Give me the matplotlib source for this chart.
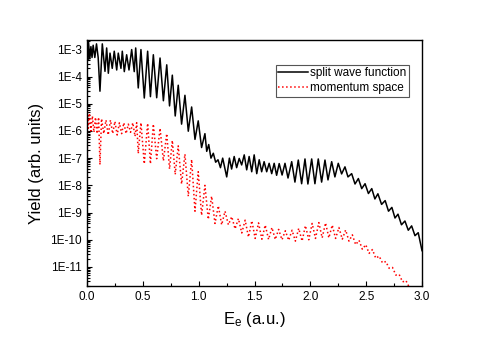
import numpy as np
import matplotlib
matplotlib.use("Agg")
import matplotlib.pyplot as plt
from matplotlib.ticker import FuncFormatter, MultipleLocator, LogLocator, NullFormatter, FixedLocator

plt.rcParams['font.family'] = ['Liberation Sans', 'DejaVu Sans']
plt.rcParams['mathtext.default'] = 'regular'

split_E = [0.000, 0.006, 0.014, 0.025, 0.035, 0.045, 0.055, 0.070, 0.085, 0.100,
           0.116, 0.137, 0.161, 0.176, 0.191, 0.206, 0.226, 0.244, 0.266, 0.280,
           0.304, 0.316, 0.334, 0.355, 0.376, 0.400, 0.423, 0.436, 0.459, 0.483,
           0.513, 0.543, 0.568, 0.594, 0.624, 0.654, 0.684, 0.714, 0.739, 0.764,
           0.790, 0.817, 0.847, 0.877, 0.907, 0.937, 0.967, 0.996, 1.026, 1.056,
           1.072, 1.090, 1.110, 1.131, 1.152, 1.173, 1.195, 1.215, 1.251, 1.275,
           1.295, 1.318, 1.340, 1.363, 1.385, 1.408, 1.430, 1.452, 1.475, 1.497,
           1.520, 1.542, 1.564, 1.586, 1.609, 1.631, 1.654, 1.676, 1.698, 1.721,
           1.747, 1.773, 1.800, 1.833, 1.862, 1.892, 1.922, 1.952, 1.978, 2.012,
           2.041, 2.071, 2.101, 2.131, 2.158, 2.191, 2.220, 2.250, 2.280, 2.310,
           2.337, 2.370, 2.400, 2.430, 2.460, 2.490, 2.520, 2.550, 2.578, 2.605,
           2.638, 2.670, 2.700, 2.730, 2.758, 2.785, 2.816, 2.847, 2.877, 2.907,
           2.937, 2.966, 3.000]
split_logY = [-2.90, -3.40, -2.75, -3.35, -2.90, -3.30, -2.85, -3.30, -2.80, -3.30,
              -4.54, -2.80, -3.81, -2.95, -3.88, -3.14, -3.70, -3.07, -3.76, -3.14,
              -3.70, -3.07, -3.82, -3.20, -3.76, -3.01, -3.82, -2.95, -4.42, -3.01,
              -4.79, -3.07, -4.74, -3.20, -4.78, -3.32, -4.89, -3.57, -5.08, -3.95,
              -5.45, -4.32, -5.75, -4.69, -6.01, -5.12, -6.31, -5.63, -6.61, -6.10,
              -6.75, -6.50, -7.00, -6.82, -7.15, -7.06, -7.35, -7.00, -7.69, -7.00,
              -7.40, -6.94, -7.35, -7.01, -7.25, -6.88, -7.43, -6.94, -7.50, -6.88,
              -7.57, -7.06, -7.50, -7.13, -7.50, -7.19, -7.57, -7.19, -7.63, -7.20,
              -7.62, -7.19, -7.73, -7.13, -7.88, -7.07, -7.94, -7.03, -7.95, -7.03,
              -7.94, -7.03, -7.88, -7.07, -7.80, -7.13, -7.69, -7.19, -7.58, -7.32,
              -7.69, -7.57, -7.95, -7.75, -8.12, -7.94, -8.30, -8.12, -8.50, -8.31,
              -8.70, -8.56, -8.95, -8.81, -9.20, -9.06, -9.45, -9.31, -9.65, -9.49,
              -9.85, -9.74, -10.40]

# momentum space
mom_E = [0.000, 0.004, 0.012, 0.022, 0.035, 0.048, 0.062, 0.076, 0.090, 0.104,
         0.116, 0.130, 0.150, 0.170, 0.190, 0.210, 0.230, 0.250, 0.270, 0.290,
         0.310, 0.330, 0.350, 0.370, 0.390, 0.410, 0.430, 0.445, 0.459, 0.483,
         0.513, 0.543, 0.568, 0.594, 0.624, 0.654, 0.684, 0.714, 0.739, 0.764,
         0.790, 0.817, 0.847, 0.877, 0.907, 0.937, 0.967, 0.996, 1.026, 1.056,
         1.086, 1.116, 1.146, 1.176, 1.206, 1.236, 1.266, 1.296, 1.326, 1.356,
         1.386, 1.416, 1.446, 1.476, 1.506, 1.536, 1.566, 1.596, 1.626, 1.656,
         1.686, 1.716, 1.746, 1.776, 1.806, 1.836, 1.866, 1.896, 1.926, 1.956,
         1.986, 2.016, 2.046, 2.076, 2.106, 2.136, 2.166, 2.196, 2.226, 2.256,
         2.286, 2.316, 2.346, 2.376, 2.406, 2.436, 2.466, 2.496, 2.526, 2.556,
         2.586, 2.616, 2.646, 2.676, 2.706, 2.736, 2.766, 2.796, 2.826, 2.856,
         2.886, 2.910]
mom_logY = [-12.0, -5.30, -5.90, -5.35, -6.00, -5.45, -6.05, -5.50, -6.10, -5.50,
            -7.24, -5.55, -6.10, -5.60, -6.15, -5.60, -6.10, -5.65, -6.15, -5.70,
            -6.10, -5.70, -6.10, -5.75, -6.05, -5.70, -6.20, -5.70, -6.83, -5.70,
            -7.21, -5.72, -7.21, -5.75, -7.02, -5.90, -7.10, -6.10, -7.40, -6.35,
            -7.60, -6.55, -7.95, -6.85, -8.40, -7.05, -8.95, -7.50, -9.10, -8.00,
            -9.25, -8.40, -9.40, -8.75, -9.45, -8.95, -9.45, -9.15, -9.60, -9.22,
            -9.75, -9.28, -9.90, -9.30, -9.95, -9.38, -9.98, -9.46, -9.99, -9.55,
            -9.99, -9.62, -10.00, -9.67, -10.02, -9.65, -10.05, -9.58, -10.05, -9.48,
            -10.00, -9.40, -9.95, -9.37, -9.93, -9.38, -9.93, -9.46, -9.95, -9.55,
            -9.98, -9.64, -10.05, -9.82, -10.18, -10.02, -10.35, -10.18, -10.50, -10.36,
            -10.68, -10.60, -10.85, -10.80, -11.05, -11.02, -11.30, -11.28, -11.55, -11.50,
            -11.75, -12.00]

y_ticks = [1e-11, 1e-10, 1e-9, 1e-8, 1e-7, 1e-6, 1e-5, 1e-4, 1e-3]

fig = plt.figure(figsize=(4.91, 3.43), dpi=100)
ax = fig.add_axes([0.1772, 0.1662, 0.6823, 0.7172])

ax.plot(split_E, 10.0 ** np.array(split_logY), color='black', lw=1.1,
        label='split wave function')
ax.plot(mom_E, 10.0 ** np.array(mom_logY), color='red', lw=1.1, ls=':',
        label='momentum space')

ax.set_yscale('log')
ax.set_xlim(0, 3.0)
ax.set_ylim(2e-12, 2.2e-3)

ax.xaxis.set_major_locator(MultipleLocator(0.5))
ax.xaxis.set_minor_locator(MultipleLocator(0.25))
ax.xaxis.set_major_formatter(FuncFormatter(lambda v, p: f"{v:.1f}"))
ax.yaxis.set_major_locator(FixedLocator(y_ticks))
ax.yaxis.set_minor_locator(LogLocator(base=10, subs=np.arange(2, 10), numticks=20))
ax.yaxis.set_major_formatter(FuncFormatter(lambda v, p: f"1E{int(round(np.log10(v)))}"))
ax.yaxis.set_minor_formatter(NullFormatter())

ax.tick_params(which='both', direction='in', top=False, right=False, width=0.8)
ax.tick_params(axis='both', labelsize=8.5)
ax.tick_params(which='major', length=3.5)
ax.tick_params(which='minor', length=2)
for s in ax.spines.values():
    s.set_linewidth(1.0)

ax.set_xlabel('E$_e$ (a.u.)', fontsize=12, labelpad=5)
ax.set_ylabel('Yield (arb. units)', fontsize=12, labelpad=5)

leg = ax.legend(loc='upper right', bbox_to_anchor=(0.961, 0.898), borderaxespad=0,
                fontsize=8.5, fancybox=False, framealpha=1, edgecolor='#555555',
                handlelength=2.5, handletextpad=0.2, labelspacing=0.25, borderpad=0.2)
leg.get_frame().set_linewidth(0.8)

fig.savefig('out.png', dpi=100)
